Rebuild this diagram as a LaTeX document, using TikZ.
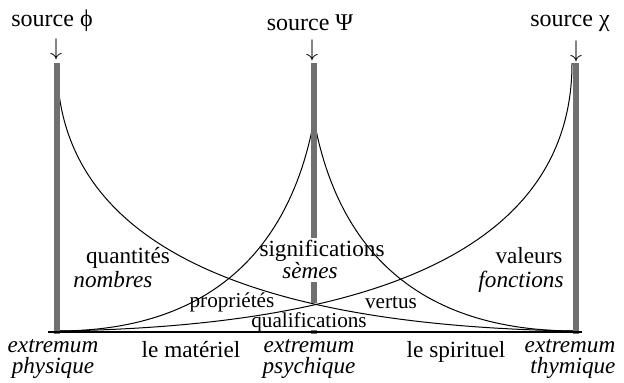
\documentclass[tikz,border=0pt]{standalone}
\usepackage{fontspec}
\setmainfont{Liberation Serif}
\definecolor{bargray}{RGB}{112,112,112}

\begin{document}
\begin{tikzpicture}[x=0.5pt, y=-0.5pt,
    srcbar/.style={draw=bargray, line width=3pt},
    curve/.style={line width=0.5pt},
    word/.style={font=\fontsize{11.6}{12}\selectfont, anchor=base, inner sep=0pt},
    wordit/.style={word, font=\fontsize{11.6}{12}\selectfont\itshape},
    smallword/.style={word, font=\fontsize{10.6}{11}\selectfont},
    srcword/.style={word, font=\fontsize{12}{13}\selectfont}]
  \useasboundingbox (0,0) rectangle (624,382);

  % Curves (drawn first, the bars lie over them)
  \coordinate (phiTop) at (57,63);
  \coordinate (phiFoot) at (57,331);
  \coordinate (psiPeak) at (314,120);
  \coordinate (chiTop) at (572,63);
  \coordinate (chiFoot) at (576,331);
  \draw[curve] (phiTop) .. controls (57,240) and (240,326) .. (chiFoot);
  \draw[curve] (phiFoot) .. controls (393,326) and (572,240) .. (chiTop);
  \draw[curve] (phiFoot) .. controls (210,331) and (290,250) .. (psiPeak);
  \draw[curve] (psiPeak) .. controls (338,250) and (418,331) .. (chiFoot);

  % SOURCES: three gray bars with their labels
  \foreach \x in {57, 576} {
    \draw[srcbar] (\x,63) -- (\x,334);
  }
  % middle bar broken where its words sit
  \foreach \a/\b in {63/238, 282/303, 330/334} {
    \draw[srcbar] (314,\a) -- (314,\b);
  }
  \node[srcword] (phi) at (52,26) {source ϕ};
  \node[srcword] (psi) at (310,30) {source Ψ};
  \node[srcword] (chi) at (570,26) {source χ};
  \node[srcword, anchor=north] (phiarrow) at (56,38) {$\downarrow$};
  \node[srcword, anchor=north] (psiarrow) at (312,39) {$\downarrow$};
  \node[srcword, anchor=north] (chiarrow) at (576,40) {$\downarrow$};

  % Base line
  \coordinate (baseL) at (48,332);
  \coordinate (baseR) at (582,332);
  \draw[line width=0.6pt] (baseL) -- (baseR);

  % Labels on the middle bar
  \node[word] (signif) at (322,256) {significations};
  \node[wordit] (semes) at (310,278) {sèmes};
  \node[smallword] (qualif) at (309,327) {qualifications};

  % Labels between the bars
  \node[word] (quant) at (128,263) {quantités};
  \node[wordit] (nombres) at (113,287) {nombres};
  \node[word] (valeurs) at (529,263) {valeurs};
  \node[wordit] (fonctions) at (521,287) {fonctions};
  \node[smallword] (propr) at (232,307) {propriétés};
  \node[smallword] (vertus) at (391,308) {vertus};

  % Bottom labels
  \node[wordit] (extPhys) at (53,352) {extremum};
  \node[wordit] (phys) at (53,373) {physique};
  \node[word] (materiel) at (191,357) {le matériel};
  \node[wordit] (extPsy) at (309,352) {extremum};
  \node[wordit] (psy) at (309,373) {psychique};
  \node[word] (spirituel) at (456,357) {le spirituel};
  \node[wordit] (extThym) at (570,352) {extremum};
  \node[wordit] (thym) at (573,373) {thymique};
\end{tikzpicture}
\end{document}
